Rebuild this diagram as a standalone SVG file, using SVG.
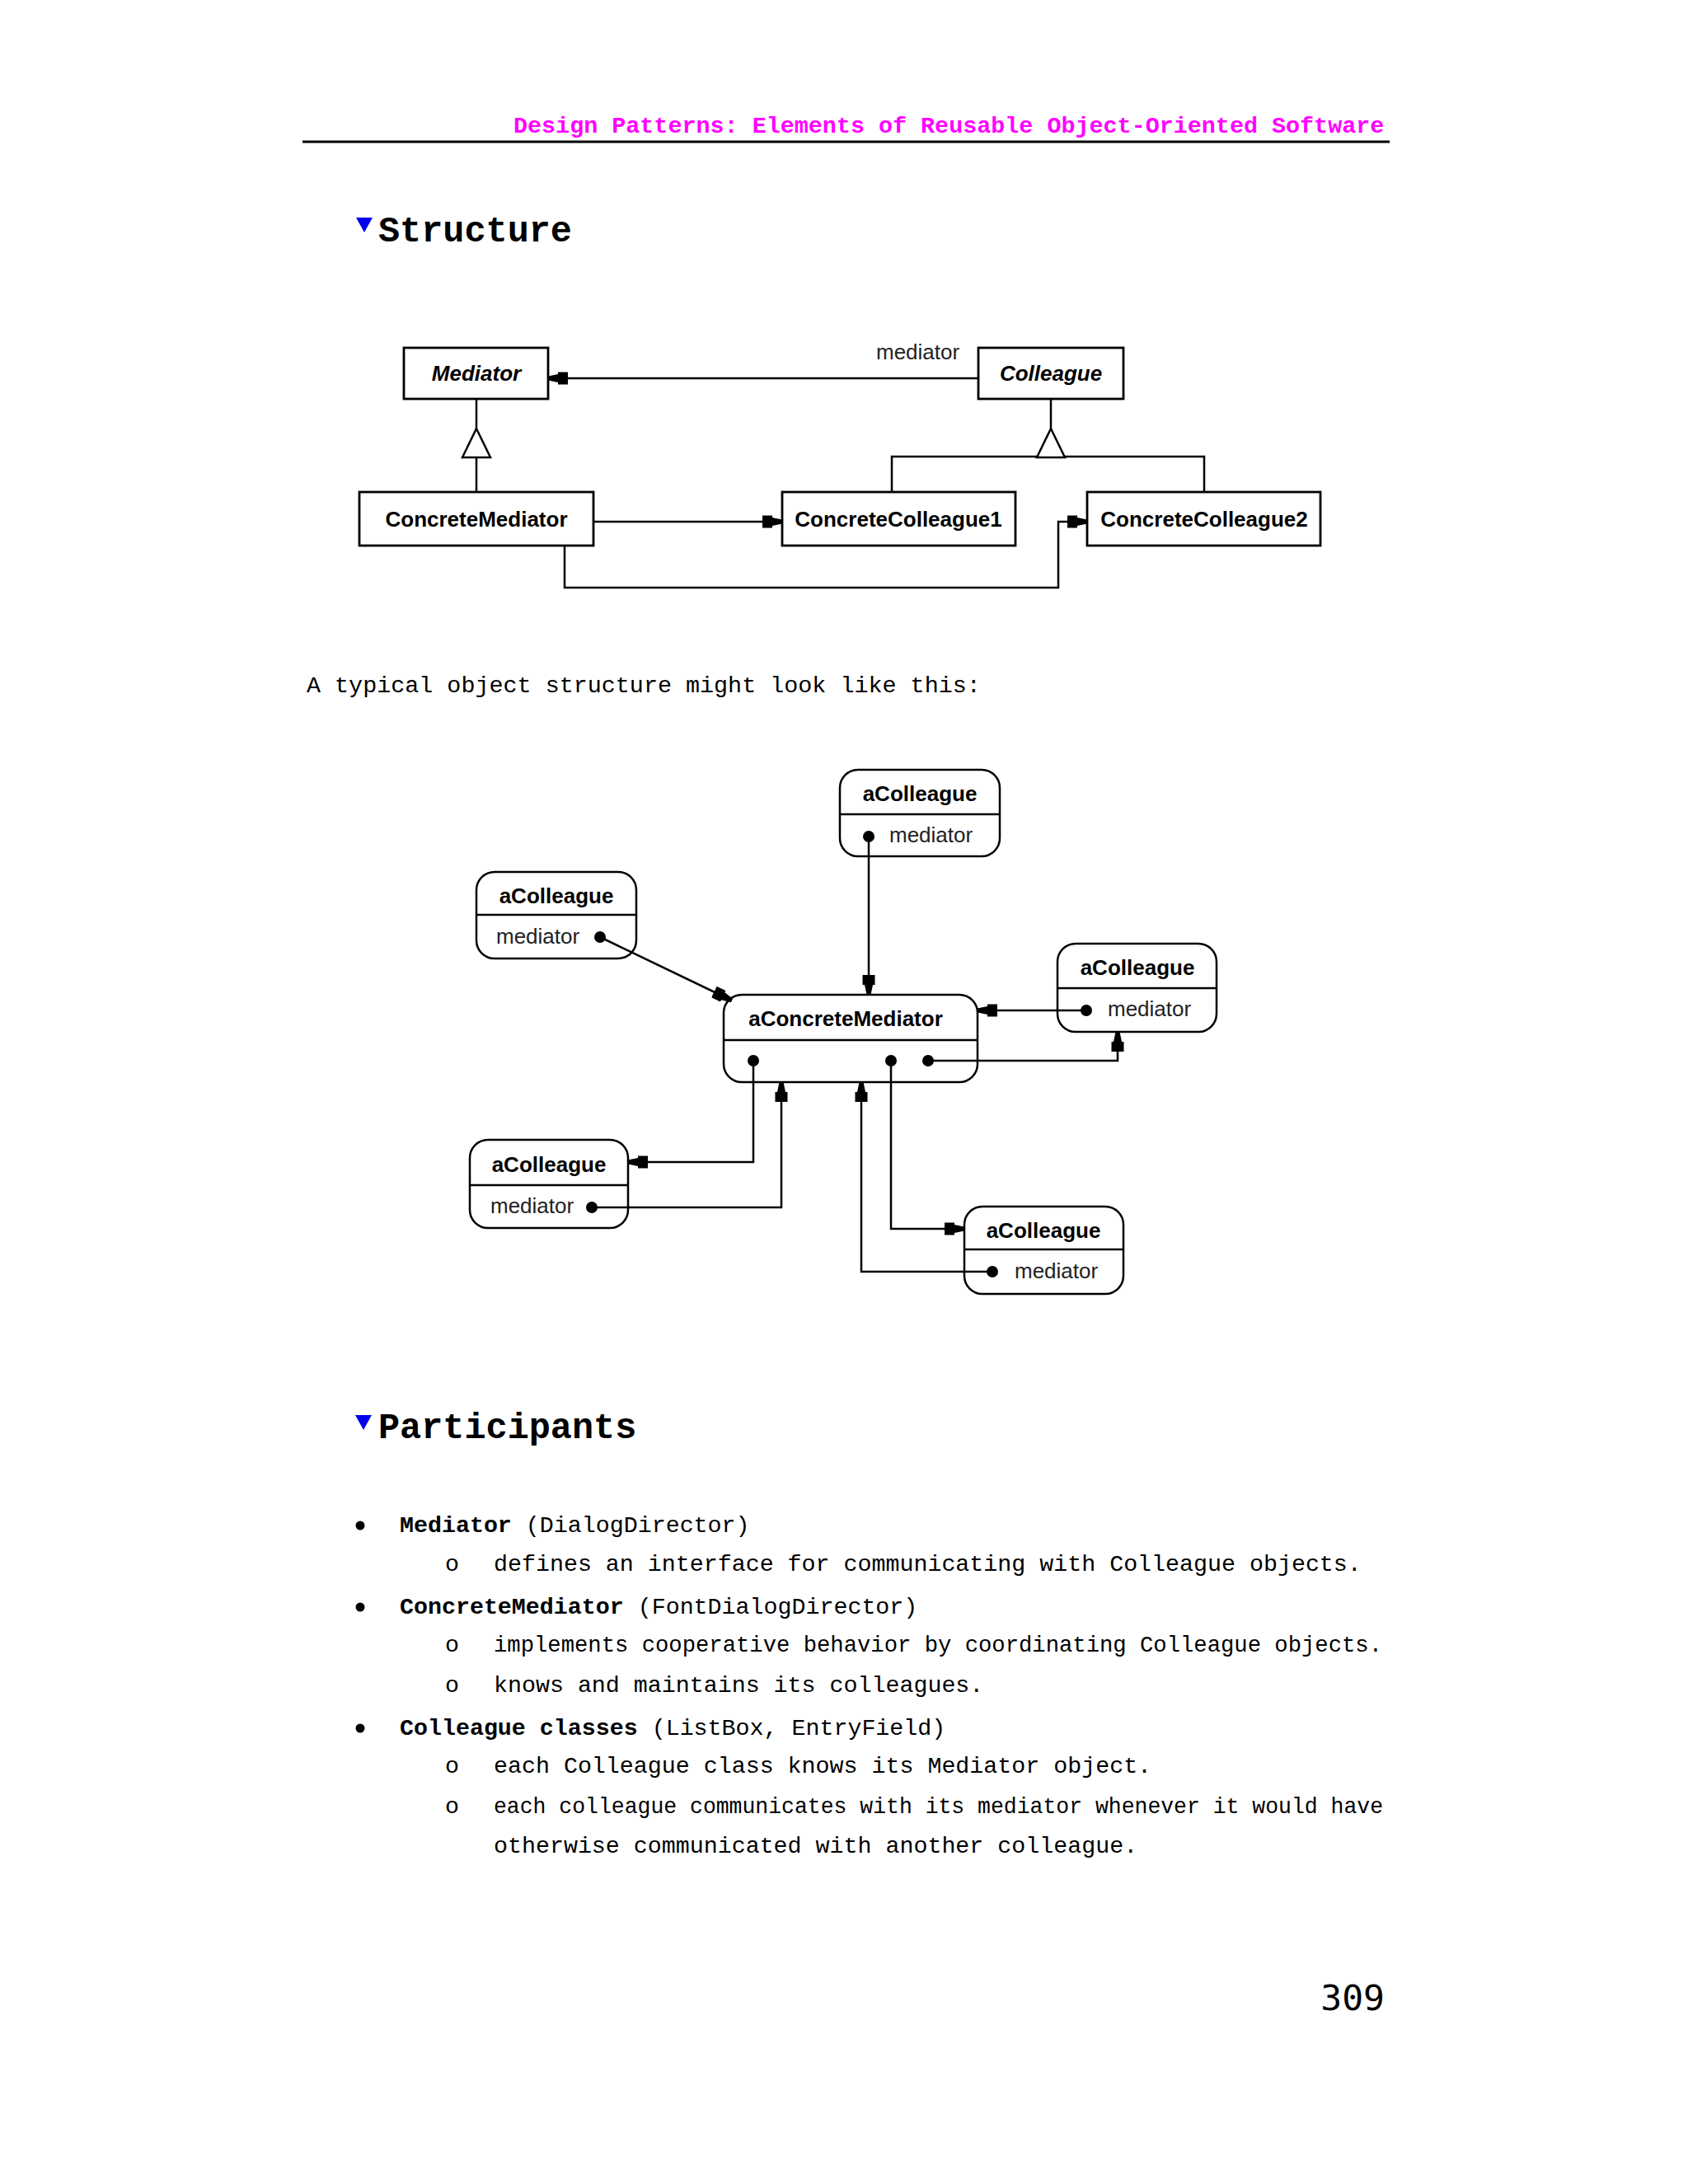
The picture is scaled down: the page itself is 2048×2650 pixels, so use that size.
<svg xmlns="http://www.w3.org/2000/svg" width="2048" height="2650" viewBox="0 0 2048 2650">
<style>
.hdr{font-family:"Liberation Mono","Courier New",monospace;font-weight:bold;font-size:28.4px;fill:#ff00ff}
.h2{font-family:"Liberation Mono","Courier New",monospace;font-weight:bold;font-size:43.5px;fill:#000}
.body{font-family:"Liberation Mono","Courier New",monospace;font-size:28.3px;fill:#000}
.b{font-weight:bold}
.cls{font-family:"Liberation Sans",Arial,sans-serif;font-weight:bold;font-size:26px;text-anchor:middle;fill:#000}
.it{font-style:italic}
.lbl{font-family:"Liberation Sans",Arial,sans-serif;font-size:26px;fill:#222}
.box{fill:#fff;stroke:#000;stroke-width:2.8}
.obj{fill:#fff;stroke:#000;stroke-width:2.5}
.ln{fill:none;stroke:#000;stroke-width:2.5}
.arr{fill:none;stroke:#000;stroke-width:2.5;marker-end:url(#ah)}
.dot{fill:#000}
.tri{fill:#0000ee}
</style>
<defs>
<marker id="ah" viewBox="0 0 24 16" refX="24" refY="8" markerWidth="24" markerHeight="16" markerUnits="userSpaceOnUse" orient="auto">
<path d="M0,0.5 L12,0.5 L12,3 L24,5.5 L24,10.5 L12,13 L12,15.5 L0,15.5 Z" fill="#000"/>
</marker>
</defs>
<rect width="2048" height="2650" fill="#fff"/>

<!-- header -->
<text class="hdr" x="623" y="161">Design Patterns: Elements of Reusable Object-Oriented Software</text>
<line x1="367" y1="172" x2="1686" y2="172" stroke="#000" stroke-width="3"/>

<!-- Structure heading -->
<polygon class="tri" points="432,264 452,264 442,282"/>
<text class="h2" x="459" y="293">Structure</text>

<!-- class diagram connectors -->
<g id="class-connectors">
<path class="arr" d="M1187,459 H665"/>
<text class="lbl" x="1063" y="436">mediator</text>
<path class="ln" d="M578,484 V520 M578,555 V597"/>
<polygon points="578,520 561,555 595,555" fill="#fff" stroke="#000" stroke-width="2.5"/>
<path class="ln" d="M1275,484 V520 M1082,597 V554 H1461 V597"/>
<polygon points="1275,520 1258,555 1292,555" fill="#fff" stroke="#000" stroke-width="2.5"/>
<path class="arr" d="M720,633 H949"/>
<path class="arr" d="M685,662 V713 H1284 V633 H1319"/>
</g>

<g id="Mediator">
<rect class="box" x="490" y="422" width="175" height="62"/>
<text class="cls it" x="578" y="462">Mediator</text>
</g>
<g id="Colleague">
<rect class="box" x="1187" y="422" width="176" height="62"/>
<text class="cls it" x="1275" y="462">Colleague</text>
</g>
<g id="ConcreteMediator">
<rect class="box" x="436" y="597" width="284" height="65"/>
<text class="cls" x="578" y="639">ConcreteMediator</text>
</g>
<g id="ConcreteColleague1">
<rect class="box" x="949" y="597" width="283" height="65"/>
<text class="cls" x="1090" y="639">ConcreteColleague1</text>
</g>
<g id="ConcreteColleague2">
<rect class="box" x="1319" y="597" width="283" height="65"/>
<text class="cls" x="1461" y="639">ConcreteColleague2</text>
</g>

<text class="body" x="372" y="840" style="font-size:28.4px">A typical object structure might look like this:</text>

<!-- object diagram -->
<g id="colleagueTop">
<rect class="obj" x="1019" y="934" width="194" height="105" rx="22"/>
<line class="ln" x1="1019" y1="988" x2="1213" y2="988"/>
<text class="cls" x="1116" y="972">aColleague</text>
<text class="lbl" x="1079" y="1022">mediator</text>
<circle class="dot" cx="1054" cy="1015" r="7"/>
</g>
<g id="colleagueLeft">
<rect class="obj" x="578" y="1058" width="194" height="105" rx="22"/>
<line class="ln" x1="578" y1="1110" x2="772" y2="1110"/>
<text class="cls" x="675" y="1096">aColleague</text>
<text class="lbl" x="602" y="1145">mediator</text>
<circle class="dot" cx="728" cy="1137" r="7"/>
</g>
<g id="colleagueRight">
<rect class="obj" x="1283" y="1145" width="193" height="107" rx="22"/>
<line class="ln" x1="1283" y1="1199" x2="1476" y2="1199"/>
<text class="cls" x="1380" y="1183">aColleague</text>
<text class="lbl" x="1344" y="1233">mediator</text>
<circle class="dot" cx="1318" cy="1226" r="7"/>
</g>
<g id="aConcreteMediator">
<rect class="obj" x="878" y="1207" width="308" height="106" rx="22"/>
<line class="ln" x1="878" y1="1262" x2="1186" y2="1262"/>
<text class="cls" x="1026" y="1245">aConcreteMediator</text>
<circle class="dot" cx="914" cy="1287" r="7"/>
<circle class="dot" cx="1081" cy="1287" r="7"/>
<circle class="dot" cx="1126" cy="1287" r="7"/>
</g>
<g id="colleagueBottomLeft">
<rect class="obj" x="570" y="1383" width="192" height="107" rx="22"/>
<line class="ln" x1="570" y1="1438" x2="762" y2="1438"/>
<text class="cls" x="666" y="1422">aColleague</text>
<text class="lbl" x="595" y="1472">mediator</text>
<circle class="dot" cx="718" cy="1465" r="7"/>
</g>
<g id="colleagueBottomRight">
<rect class="obj" x="1170" y="1464" width="193" height="106" rx="22"/>
<line class="ln" x1="1170" y1="1516" x2="1363" y2="1516"/>
<text class="cls" x="1266" y="1502">aColleague</text>
<text class="lbl" x="1231" y="1551">mediator</text>
<circle class="dot" cx="1204" cy="1543" r="7"/>
</g>

<g id="object-connectors">
<path class="arr" d="M1054,1015 V1207"/>
<path class="arr" d="M728,1137 L888,1214"/>
<path class="arr" d="M1318,1226 H1186"/>
<path class="arr" d="M1126,1287 H1356 V1252"/>
<path class="arr" d="M914,1287 V1410 H762"/>
<path class="arr" d="M718,1465 H948 V1313"/>
<path class="arr" d="M1081,1287 V1491 H1170"/>
<path class="arr" d="M1204,1543 H1045 V1313"/>
</g>

<!-- Participants -->
<polygon class="tri" points="431,1717 451,1717 441,1735"/>
<text class="h2" x="459" y="1745">Participants</text>

<circle cx="437" cy="1851" r="5.5" fill="#000"/>
<text class="body" x="485" y="1859"><tspan class="b">Mediator</tspan> (DialogDirector)</text>
<text class="body" x="540" y="1906">o</text>
<text class="body" x="599" y="1906">defines an interface for communicating with Colleague objects.</text>

<circle cx="437" cy="1950" r="5.5" fill="#000"/>
<text class="body" x="485" y="1958"><tspan class="b">ConcreteMediator</tspan> (FontDialogDirector)</text>
<text class="body" x="540" y="2004">o</text>
<text class="body" x="599" y="2004" textLength="1078" lengthAdjust="spacingAndGlyphs">implements cooperative behavior by coordinating Colleague objects.</text>
<text class="body" x="540" y="2053">o</text>
<text class="body" x="599" y="2053">knows and maintains its colleagues.</text>

<circle cx="437" cy="2097" r="5.5" fill="#000"/>
<text class="body" x="485" y="2105"><tspan class="b">Colleague classes</tspan> (ListBox, EntryField)</text>
<text class="body" x="540" y="2151">o</text>
<text class="body" x="599" y="2151">each Colleague class knows its Mediator object.</text>
<text class="body" x="540" y="2200">o</text>
<text class="body" x="599" y="2200" textLength="1079" lengthAdjust="spacingAndGlyphs">each colleague communicates with its mediator whenever it would have</text>
<text class="body" x="599" y="2248">otherwise communicated with another colleague.</text>

<text x="1680" y="2439" text-anchor="end" style="font-family:'DejaVu Sans Mono',monospace;font-size:43px;fill:#000">309</text>
</svg>
